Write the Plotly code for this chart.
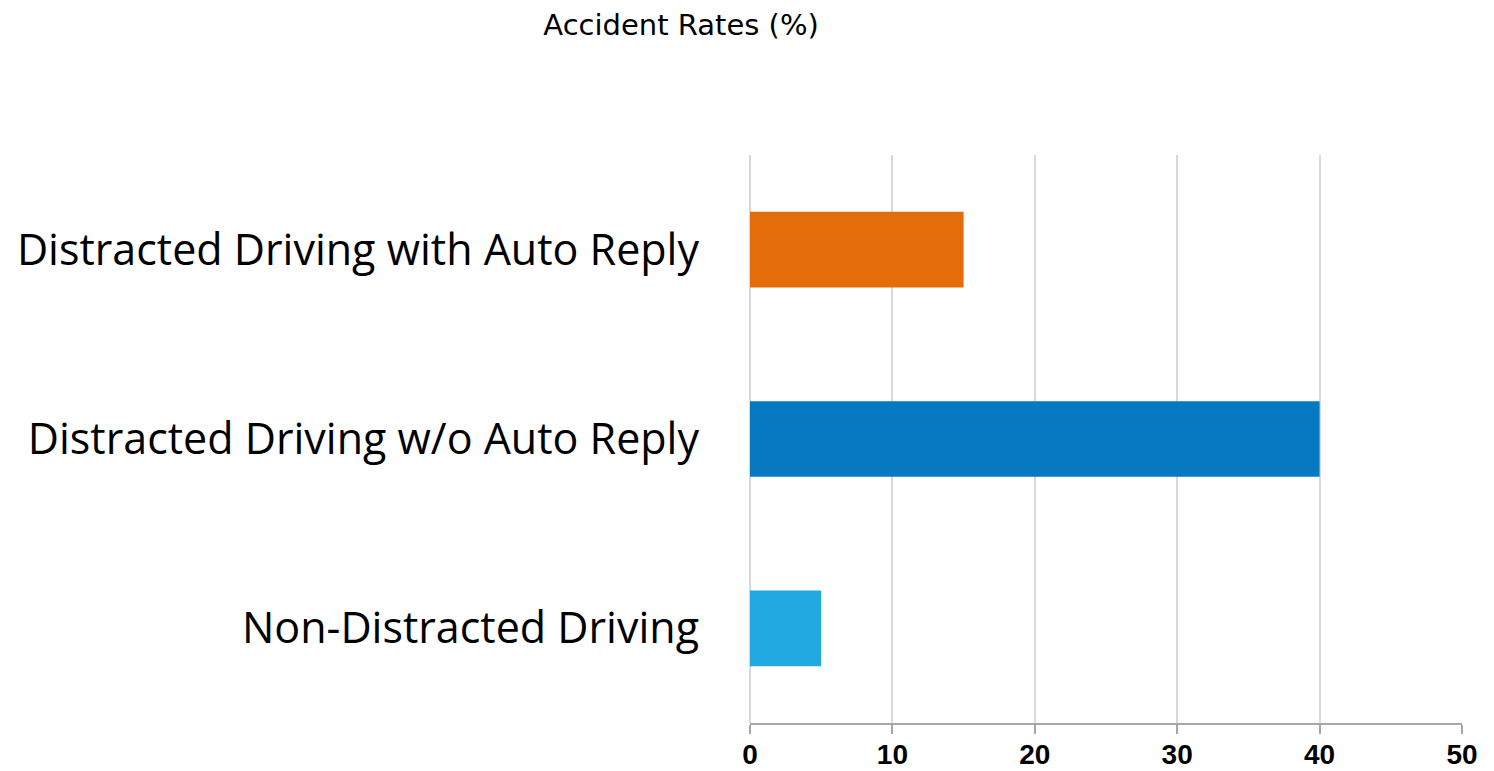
import plotly.graph_objects as go

categories = ["Non-Distracted Driving", "Distracted Driving w/o Auto Reply", "Distracted Driving with Auto Reply"]
values = [5, 40, 15]
colors = ["#23A9E1", "#0779C1", "#E46C0A"]
x_ticks = [0, 10, 20, 30, 40, 50]

fig = go.Figure()
fig.add_trace(go.Bar(
    y=categories, x=values, orientation="h",
    marker=dict(color=colors, line=dict(width=0)),
    width=0.4,
))

fig.update_layout(
    width=1494, height=771,
    paper_bgcolor="white", plot_bgcolor="white",
    margin=dict(l=742, r=40, t=147, b=56, autoexpand=False),
    showlegend=False,
    title=dict(text="Accident Rates (%)", x=0.4505, xanchor="center", y=0.978, yanchor="middle",
               font=dict(family="DejaVu Sans, Liberation Sans, Arial", size=29, color="black")),
    xaxis=dict(range=[0, 50], tickvals=x_ticks, showgrid=True, gridcolor="#D9D9D9", gridwidth=1.5,
               zeroline=True, zerolinecolor="#D9D9D9", zerolinewidth=1.5,
               showline=True, linecolor="#A6A6A6", linewidth=2,
               ticks="outside", ticklen=9, tickcolor="#A6A6A6", tickwidth=1.5,
               ticklabelstandoff=-4,
               tickfont=dict(family="Liberation Sans, Arial", size=28, color="black", weight="bold"),
               automargin=False, fixedrange=True),
    yaxis=dict(categoryorder="array", categoryarray=categories, showgrid=False, showline=False,
               zeroline=False, ticks="", ticklabelstandoff=50, automargin=False,
               tickfont=dict(family="Open Sans, Lato", size=43, color="black")),
)

fig.write_html("out.html")
